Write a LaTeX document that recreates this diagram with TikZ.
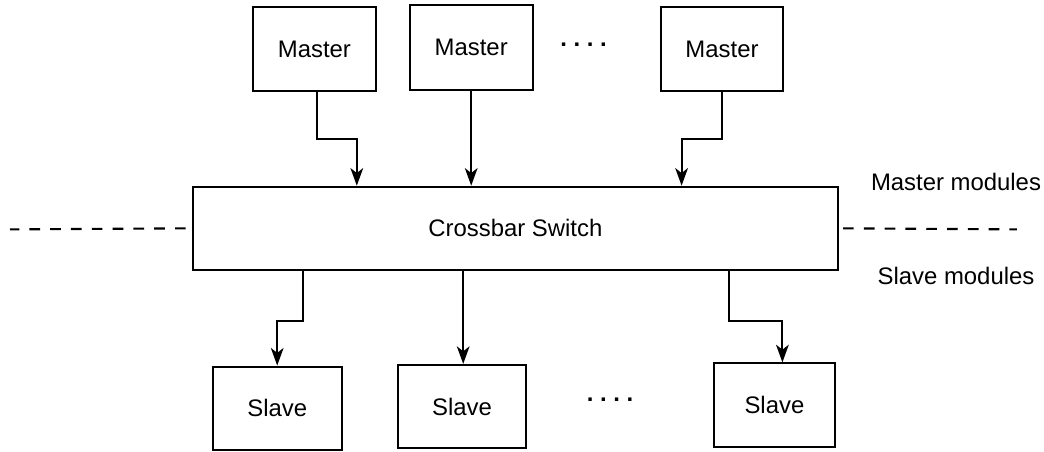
\documentclass[tikz,border=0pt]{standalone}
\usepackage{fontspec}
\setmainfont{Liberation Sans}
\usepackage{tikz}
\usetikzlibrary{arrows.meta,positioning,calc}

\tikzset{
  module/.style={draw, line width=1.5pt, minimum width=3.1cm, minimum height=2.08cm, inner sep=0pt},
  link/.style={-{Stealth[length=12.5pt, width=9pt, inset=3.5pt]}, line width=1.5pt},
  divider/.style={line width=1.5pt, dash pattern=on 7.6pt off 7.2pt},
  sidelabel/.style={anchor=base, inner sep=0pt},
  ellipsis/.style={font=\fontsize{17}{20}\selectfont\bfseries}
}

\begin{document}
\begin{tikzpicture}[font=\fontsize{17}{20}\selectfont]

\useasboundingbox (0,0) rectangle (26.1,11.275);

% ==========================================
% Crossbar and Divider
% ==========================================
\node[module, minimum width=16.13cm] (xbar) at (12.884,5.566) {Crossbar Switch};

\coordinate (dl) at (0.25,5.54);
\coordinate (dr) at (25.42,5.54);
\draw[divider] (xbar.west) ++(-0.15,0) -- (dl);
\draw[divider] (xbar.east) ++(0.1,0) -- (dr);

\node[sidelabel] (mlabel) at (23.9,6.51) {Master modules};
\node[sidelabel] (slabel) at (23.9,4.175) {Slave modules};

% ==========================================
% Master Modules
% ==========================================
\node[module, minimum width=3.07cm] (m1) at (7.86,10.05) {Master};
\node[module, minimum width=3.07cm, minimum height=2.12cm] (m2) at (11.78,10.09) {Master};
\node[module, minimum width=3.06cm] (m3) at (18.05,10.05) {Master};
\node[ellipsis] (mdots) at (14.59,10.15) {.\ .\ .\ .};

% ==========================================
% Slave Modules
% ==========================================
\node[module, minimum width=3.22cm] (s1) at (6.93,1.07) {Slave};
\node[module, minimum width=3.19cm] (s2) at (11.55,1.11) {Slave};
\node[module, minimum width=3.03cm] (s3) at (19.36,1.15) {Slave};
\node[ellipsis] (sdots) at (15.25,1.28) {.\ .\ .\ .};

% ==========================================
% Connectors
% ==========================================
% Masters into the switch
\coordinate (in1) at (8.92,0 |- xbar.north);
\coordinate (in3) at (17.04,0 |- xbar.north);
\draw[link] ([xshift=0.06cm]m1.south) -- ++(0,-1.19) -| (in1);
\draw[link] (m2.south) -- (m2.south |- xbar.north);
\draw[link] (m3.south) -- ++(0,-1.19) -| (in3);

% Switch out to slaves
\coordinate (out1) at (7.58,0 |- xbar.south);
\coordinate (out3) at (18.23,0 |- xbar.south);
\draw[link] (out1) -- ++(0,-1.24) -| (s1.north);
\draw[link] (11.58,0 |- xbar.south) -- (11.58,0 |- s2.north);
\draw[link] (out3) -- ++(0,-1.24) -| ([xshift=0.2cm]s3.north);

\end{tikzpicture}
\end{document}
